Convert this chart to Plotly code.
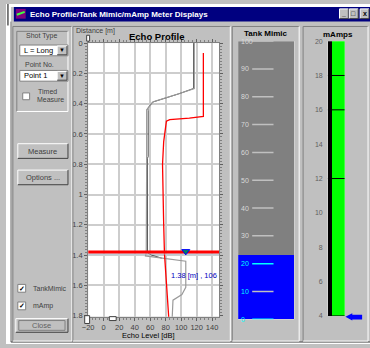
import plotly.graph_objects as go

W, H = 370, 348

# echo profile: distance [m] vs echo level [dB]
echo_dist = [0, 0.30, 0.333, 0.387, 0.426, 0.44, 0.80, 1.20, 1.385, 1.405, 1.44, 1.613, 1.66, 1.697, 1.81]
echo_level = [117, 117, 98, 64, 58, 55.5, 55.5, 55, 55, 54, 106, 106, 101, 89.5, 88.5]
raw_dist = [0, 0.30, 0.335, 0.39, 0.43, 0.445, 0.75, 0.76, 1.385, 1.40, 1.42]
raw_level = [116, 116, 97, 63, 57, 57.5, 57.5, 56.5, 56.5, 62, 75]
tvt_dist = [0.065, 0.484, 0.495, 0.505, 0.516, 0.58, 0.65, 0.80, 1.00, 1.20, 1.39, 1.60, 1.81]
tvt_level = [128.7, 128.7, 110.6, 85.3, 81, 79, 77.5, 76, 76.5, 77.5, 78.5, 81, 84]
pick_dist = 1.38
pick_level = 106
echo_xticks = [-20, 0, 20, 40, 60, 80, 100, 120, 140]
echo_yticks = [0, 0.2, 0.4, 0.6, 0.8, 1.0, 1.2, 1.4, 1.6, 1.8]
echo_ytext = ["0", "0.2", "0.4", "0.6", "0.8", "1", "1.2", "1.4", "1.6", "1.8"]

# tank mimic (%)
tank_level = 23
tank_ticks = [0, 10, 20, 30, 40, 50, 60, 70, 80, 90, 100]

# mA meter
ma_ticks = [4, 6, 8, 10, 12, 14, 16, 18, 20]
ma_bar = 20
ma_marks = [4, 12, 16, 18]

FONT = "Liberation Sans"
shapes, annos = [], []


def px(x):
    return x / W


def py(y):
    return 1 - y / H


def box(x0, y0, x1, y1, fill=None, line=None, lw=1, layer="above"):
    shapes.append(dict(type="rect", xref="paper", yref="paper",
                       x0=px(x0), x1=px(x1), y0=py(y1), y1=py(y0),
                       fillcolor=fill or "rgba(0,0,0,0)",
                       line=dict(color=line or "rgba(0,0,0,0)", width=lw if line else 0),
                       layer=layer))


def seg(x0, y0, x1, y1, color, lw=1, layer="above"):
    shapes.append(dict(type="line", xref="paper", yref="paper",
                       x0=px(x0), x1=px(x1), y0=py(y0), y1=py(y1),
                       line=dict(color=color, width=lw), layer=layer))


def bevel(x0, y0, x1, y1, sunken=False):
    tl, br = ("#808080", "#ffffff") if sunken else ("#ffffff", "#404040")
    seg(x0, y0, x1, y0, tl)
    seg(x0, y0, x0, y1, tl)
    seg(x0, y1, x1, y1, br)
    seg(x1, y0, x1, y1, br)


def text(x, y, s, size=8, color="#000000", xa="left", bold=False):
    if bold:
        s = "<b>" + s + "</b>"
    annos.append(dict(x=px(x), y=py(y), xref="paper", yref="paper", text=s,
                      showarrow=False, xanchor=xa, yanchor="middle",
                      font=dict(family=FONT, size=size, color=color)))


# window (paper is the grey window face; white outside it)
box(0, 0, 5, H, fill="#ffffff")
box(0, 0, W, 3, fill="#ffffff")
box(0, 346, W, H, fill="#ffffff")
seg(2, 0, 2, 22, "#000000")
seg(5, 18, 5, 346, "#808080")
seg(5, 346, W, 346, "#404040")
# title bar
box(8, 3, W, 18, fill="#000080")
box(10, 5, 20, 15, fill="#800080")
seg(11, 11, 19, 8, "#40ff40", 2)
text(22, 10.5, "Echo Profile/Tank Mimic/mAmp Meter Displays", 8, "#ffffff", bold=True)
for bx, glyph in [(339, "_"), (349, "□"), (360, "x")]:
    box(bx, 5, bx + 9, 15, fill="#c0c0c0")
    bevel(bx, 5, bx + 9, 15)
    text(bx + 4.5, 10, glyph, 7, "#000000", xa="center", bold=True)

# panels
bevel(7, 23, 67, 345, sunken=True)
bevel(68, 23, 228, 345, sunken=True)
bevel(230, 23, 298, 345, sunken=True)
bevel(302, 23, 368, 345, sunken=True)

# left controls
bevel(11, 28, 63, 110, sunken=True)
text(18, 33, "Shot Type", 7, "#404040")
box(14, 42, 63, 53, fill="#ffffff", line="#808080")
text(16, 47.5, "L = Long", 7.5, "#000000")
box(52, 43, 62, 52, fill="#c0c0c0")
bevel(52, 43, 62, 52)
text(57, 47.5, "▼", 6, "#000000", xa="center")
text(17, 62, "Point No.", 7, "#404040")
box(14, 68, 63, 79, fill="#ffffff", line="#808080")
text(16, 73.5, "Point 1", 7.5, "#000000")
box(52, 69, 62, 78, fill="#c0c0c0")
bevel(52, 69, 62, 78)
text(57, 73.5, "▼", 6, "#000000", xa="center")
box(17, 91, 24, 98, fill="#ffffff", line="#808080")
text(31, 90, "Timed", 7, "#404040")
text(29, 98, "Measure", 7, "#404040")
for by, lab in [(143, "Measure"), (170, "Options ...")]:
    bevel(12, by, 63, by + 15)
    text(37.5, by + 7.5, lab, 7.5, "#404040", xa="center")
for cy, lab in [(291, "TankMimic"), (309, "mAmp")]:
    box(12, cy - 4, 20, cy + 4, fill="#ffffff", line="#808080")
    text(16, cy, "✓", 7, "#000000", xa="center", bold=True)
    text(25, cy, lab, 7, "#404040")
bevel(10, 322, 63, 336)
box(13, 324, 60, 334, line="#808080")
text(36.5, 329, "Close", 7.5, "#606060", xa="center")

# echo profile titles
text(69, 28, "Distance [m]", 7, "#404040")
text(153, 33, "Echo Profile", 9.5, "#000000", xa="center", bold=True)
text(145, 339, "Echo Level [dB]", 7.5, "#000000", xa="center")
# slider handles
box(80, 319, 85, 327, fill="#ffffff", line="#404040")
box(105, 320, 112, 324, fill="#ffffff", line="#404040")
box(82, 32, 85, 38, fill="#ffffff", line="#404040")

# tank mimic
text(264.5, 30.5, "Tank Mimic", 8, "#000000", xa="center", bold=True)
for t in tank_ticks:
    inside = t <= tank_level
    lc = "#00ffff" if inside and t % 20 == 0 else "#c0c0c0"
    tc = "#00ffff" if inside else "#d8d8d8"
    shapes.append(dict(type="line", xref="x2", yref="y2", x0=-0.25, x1=0.13,
                       y0=t, y1=t, line=dict(color=lc, width=1.5), layer="above"))
    annos.append(dict(x=-0.48, y=t, xref="x2", yref="y2", text=str(t), showarrow=False,
                      xanchor="left", yanchor="middle",
                      font=dict(family=FONT, size=7, color=tc)))

# mAmps
text(337.5, 31, "mAmps", 8, "#000000", xa="center", bold=True)
for m in ma_marks:
    shapes.append(dict(type="line", xref="x3", yref="y3", x0=0, x1=1, y0=m, y1=m,
                       line=dict(color="#000000", width=1), layer="above"))
shapes.append(dict(type="path", xref="paper", yref="paper", layer="above",
                   path="M {} {} L {} {} L {} {} L {} {} L {} {} L {} {} L {} {} Z".format(
                       px(345), py(320), px(352), py(316.5), px(352), py(318), px(362), py(318),
                       px(362), py(323), px(352), py(323), px(352), py(324)),
                   fillcolor="#0000ff", line=dict(width=0)))

fig = go.Figure()
# echo traces
fig.add_trace(go.Scatter(x=raw_level, y=raw_dist, mode="lines",
                         line=dict(color="#505050", width=1)))
fig.add_trace(go.Scatter(x=echo_level, y=echo_dist, mode="lines",
                         line=dict(color="#9a9a9a", width=1.2)))
fig.add_trace(go.Scatter(x=tvt_level, y=tvt_dist, mode="lines",
                         line=dict(color="#ff0000", width=1.3)))
fig.add_trace(go.Scatter(x=[-20, 150], y=[pick_dist + 0.012] * 2, mode="lines",
                         line=dict(color="#b0c8e0", width=1)))
fig.add_trace(go.Scatter(x=[-20, 150], y=[pick_dist] * 2, mode="lines",
                         line=dict(color="#ff0000", width=3)))
fig.add_trace(go.Scatter(x=[pick_level], y=[pick_dist - 0.005], mode="markers",
                         marker=dict(symbol="triangle-down", size=7, color="#008060",
                                     line=dict(color="#0000ff", width=1))))
annos.append(dict(x=116, y=1.535, xref="x", yref="y",
                  text="{:.2f} [m] , {}".format(pick_dist, pick_level), showarrow=False,
                  font=dict(family=FONT, size=7.5, color="#0000c0")))

# tank bars
fig.add_trace(go.Bar(x=[0], y=[tank_level], base=0, width=1, marker=dict(color="#0000ff", line=dict(width=0)),
                     xaxis="x2", yaxis="y2"))
fig.add_trace(go.Bar(x=[0], y=[100 - tank_level], base=tank_level, width=1,
                     marker=dict(color="#808080", line=dict(width=0)), xaxis="x2", yaxis="y2"))
# mA bars
fig.add_trace(go.Bar(x=[0.115], y=[ma_ticks[-1] - ma_ticks[0]], base=ma_ticks[0], width=0.23,
                     marker=dict(color="#000000", line=dict(width=0)), xaxis="x3", yaxis="y3"))
fig.add_trace(go.Bar(x=[0.615], y=[ma_bar - ma_ticks[0]], base=ma_ticks[0], width=0.77,
                     marker=dict(color="#00ff00", line=dict(width=0)), xaxis="x3", yaxis="y3"))

tickfont = dict(family=FONT, size=7.5, color="#404040")
fig.update_layout(
    width=W, height=H, margin=dict(l=0, r=0, t=0, b=0),
    paper_bgcolor="#c0c0c0", plot_bgcolor="#ffffff",
    showlegend=False, barmode="overlay", bargap=0,
    shapes=shapes, annotations=annos,
    xaxis=dict(domain=[px(83.5), px(217)], range=[-20, 149.5], anchor="y",
               tickvals=echo_xticks, ticks="outside", ticklen=3, tickcolor="#606060",
               showline=True, linecolor="#808080", mirror="ticks",
               showgrid=True, gridcolor="#cdcdcd", gridwidth=1.5, zeroline=False,
               tickfont=tickfont,
               minor=dict(dtick=5, ticklen=2, tickcolor="#808080", showgrid=False)),
    yaxis=dict(domain=[py(320), py(40)], range=[1.806, 0], anchor="x",
               tickvals=echo_yticks, ticktext=echo_ytext, ticks="outside", ticklen=3,
               tickcolor="#606060", showline=True, linecolor="#808080", mirror="ticks",
               showgrid=True, gridcolor="#cdcdcd", gridwidth=1.5, zeroline=False,
               tickfont=tickfont,
               minor=dict(dtick=0.02, ticklen=2, tickcolor="#808080", showgrid=False)),
    xaxis2=dict(domain=[px(236), px(293)], range=[-0.5, 0.5], anchor="y2", visible=False),
    yaxis2=dict(domain=[py(322.7), py(38)], range=[0, 100], anchor="x2", visible=False),
    xaxis3=dict(domain=[px(327), px(344.3)], range=[0, 1], anchor="y3", visible=False),
    yaxis3=dict(domain=[py(319.3), py(38)], range=[4, 20], anchor="x3",
                tickvals=ma_ticks, ticks="", showgrid=False, zeroline=False, showline=False,
                ticklabelstandoff=4, tickfont=dict(family=FONT, size=7, color="#606060")),
)

fig.write_html("out.html", config={"displayModeBar": False},
               post_script="document.body.style.margin='0';document.body.style.overflow='hidden';")
